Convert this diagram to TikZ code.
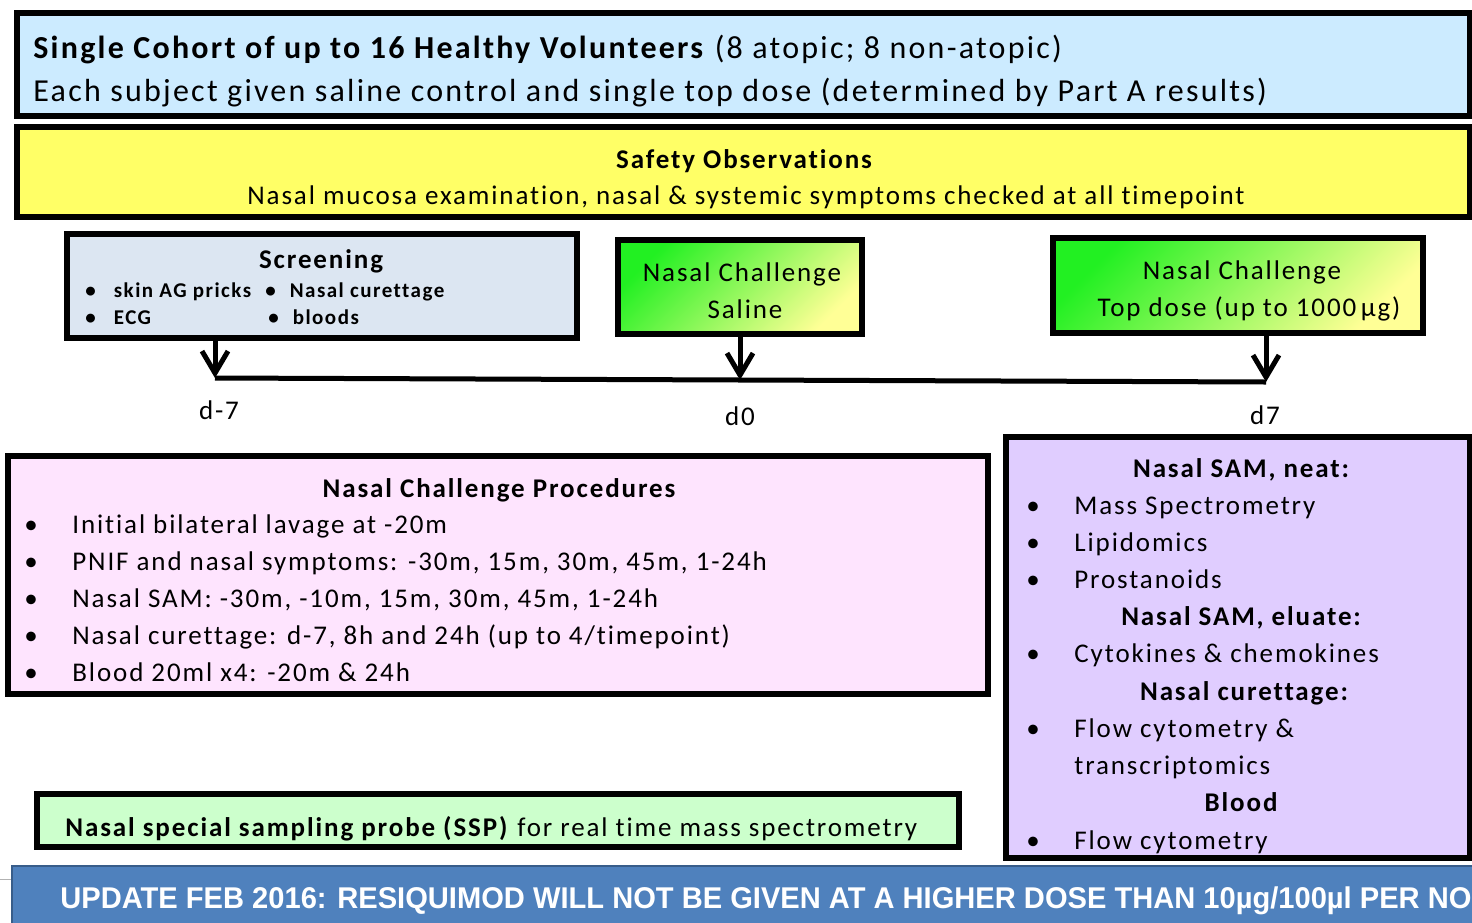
\documentclass[tikz,border=0pt]{standalone}
\usepackage{fontspec}
\setmainfont{Carlito}[LetterSpace=7, Ligatures=NoCommon]
\newfontfamily\bannerfont{Liberation Sans}
\usetikzlibrary{arrows.meta}

\definecolor{cohortblue}{RGB}{204,235,255}
\definecolor{safetyyellow}{RGB}{255,255,102}
\definecolor{screenblue}{RGB}{220,230,242}
\definecolor{procpink}{RGB}{254,228,254}
\definecolor{samlilac}{RGB}{224,205,255}
\definecolor{sspgreen}{RGB}{204,255,204}
\definecolor{updateblue}{RGB}{79,129,189}
\definecolor{updateedge}{RGB}{56,93,138}
\definecolor{chalgreen}{RGB}{34,240,34}
\definecolor{chalyellow}{RGB}{255,255,150}

\begin{document}
\begin{tikzpicture}[x=0.5pt, y=-0.5pt,
  box/.style={draw=black, line width=3pt, inner sep=0pt},
  chal/.style={box, top color=chalgreen, bottom color=chalyellow, shading angle=45},
  txt/.style={anchor=base, inner sep=0pt},
  ltxt/.style={anchor=base west, inner sep=0pt},
  big/.style={font=\fontsize{16}{19}\selectfont},
  mid/.style={font=\fontsize{13.5}{16}\selectfont},
  small/.style={font=\fontsize{10.5}{12}\selectfont\bfseries},
  arr/.style={line width=2.5pt, -{Straight Barb[length=11pt, width=13pt, line width=2.5pt]}}]
 \useasboundingbox (0,0) rectangle (1472,922);
 \clip (0,0) rectangle (1472,922);

 \node[box, fill=cohortblue, minimum width=726.5pt, minimum height=51.5pt] (cohort) at (743.5,64.5) {};
 \node[ltxt, big] (cohortA) at (33,58) {\textbf{Single Cohort of up to 16 Healthy Volunteers} (8 atopic; 8 non-atopic)};
 \node[ltxt, big] (cohortB) at (33,101) {Each subject given saline control and single top dose (determined by Part A results)};

 \node[box, fill=safetyyellow, minimum width=726.5pt, minimum height=45pt] (safety) at (743.5,172) {};
 \node[txt, mid] (safetyA) at (745,168) {\textbf{Safety Observations}};
 \node[txt, mid] (safetyB) at (746,204) {Nasal mucosa examination, nasal \& systemic symptoms checked at all timepoint};

 \node[box, fill=screenblue, minimum width=255pt, minimum height=52pt] (screen) at (322,286) {};
 \node[txt, mid] (screenT) at (322,268) {\textbf{Screening}};
 \node[ltxt, small] (screen1) at (85,297) {•\hspace{9pt}skin AG pricks};
 \node[ltxt, small] (screen2) at (265,297) {•\hspace{7pt}Nasal curettage};
 \node[ltxt, small] (screen3) at (85,324) {•\hspace{9pt}ECG};
 \node[ltxt, small] (screen4) at (268,324) {•\hspace{7pt}bloods};

 \node[chal, minimum width=122pt, minimum height=47pt] (saline) at (740,287) {};
 \node[txt, mid] (salineA) at (742,281) {Nasal Challenge};
 \node[txt, mid] (salineB) at (745,318) {Saline};

 \node[chal, minimum width=185pt, minimum height=47.5pt] (topdose) at (1238,285.5) {};
 \node[txt, mid] (topdoseA) at (1242,279) {Nasal Challenge};
 \node[txt, mid] (topdoseB) at (1249,316) {Top dose (up to 1000\,µg)};

 \coordinate (tA) at (215,378);
 \coordinate (tB) at (740,380);
 \coordinate (tC) at (1266,382);
 \draw[line width=2.5pt] (tA) -- (tC);
 \draw[arr] (screen.south -| tA) -- (tA);
 \draw[arr] (saline.south) -- (tB);
 \draw[arr] (topdose.south -| tC) -- (tC);
 \node[txt, mid] (dA) at (219,419) {d-7};
 \node[txt, mid] (dB) at (740,425) {d0};
 \node[txt, mid] (dC) at (1265,424) {d7};

 \node[box, fill=procpink, minimum width=490pt, minimum height=119pt] (procs) at (498,575) {};
 \node[txt, mid] (procsT) at (500,497) {\textbf{Nasal Challenge Procedures}};
 \foreach \t [count=\i] in {{Initial bilateral lavage at -20m},
   {PNIF and nasal symptoms: -30m, 15m, 30m, 45m, 1-24h},
   {Nasal SAM: -30m, -10m, 15m, 30m, 45m, 1-24h},
   {Nasal curettage: d-7, 8h and 24h (up to 4/timepoint)},
   {Blood 20ml x4: -20m \& 24h}}
 {
  \node[ltxt, mid] (procB\i) at (24,533+37*\i-37) {•};
  \node[ltxt, mid] (procI\i) at (72,533+37*\i-37) {\t};
 }

 \node[box, fill=samlilac, minimum width=232pt, minimum height=210.5pt] (sam) at (1238,647.5) {};
 \node[txt, mid] (samH1) at (1242,477) {\textbf{Nasal SAM, neat:}};
 \node[ltxt, mid] (samI1) at (1074,514) {Mass Spectrometry};
 \node[ltxt, mid] (samI2) at (1074,551) {Lipidomics};
 \node[ltxt, mid] (samI3) at (1074,588) {Prostanoids};
 \node[txt, mid] (samH2) at (1242,625) {\textbf{Nasal SAM, eluate:}};
 \node[ltxt, mid] (samI4) at (1074,662) {Cytokines \& chemokines};
 \node[txt, mid] (samH3) at (1245,700) {\textbf{Nasal curettage:}};
 \node[ltxt, mid] (samI5) at (1074,737) {Flow cytometry \&};
 \node[ltxt, mid] (samI6) at (1074,774) {transcriptomics};
 \node[txt, mid] (samH4) at (1242,811) {\textbf{Blood}};
 \node[ltxt, mid] (samI7) at (1074,849) {Flow cytometry};
 \foreach \y in {514,551,588,662,737,849}
  \node[ltxt, mid] at (1026,\y) {•};

 \node[box, fill=sspgreen, minimum width=461pt, minimum height=26.5pt] (ssp) at (498,820.5) {};
 \node[ltxt, mid] (sspT) at (65,836) {\textbf{Nasal special sampling probe (SSP)} for real time mass spectrometry};

 \draw[gray!60, line width=0.5pt] (0,879) -- (12,879);
 \node[draw=updateedge, line width=1pt, fill=updateblue, minimum width=739pt, minimum height=37pt] (update) at (751,903) {};
 \node[ltxt, text=white] (updateT) at (60,908) {\bannerfont\bfseries\fontsize{15}{18}\selectfont\scalebox{0.97}[1]{UPDATE FEB 2016: RESIQUIMOD WILL NOT BE GIVEN AT A HIGHER DOSE THAN 10µg/100µl PER NO}};
\end{tikzpicture}
\end{document}
